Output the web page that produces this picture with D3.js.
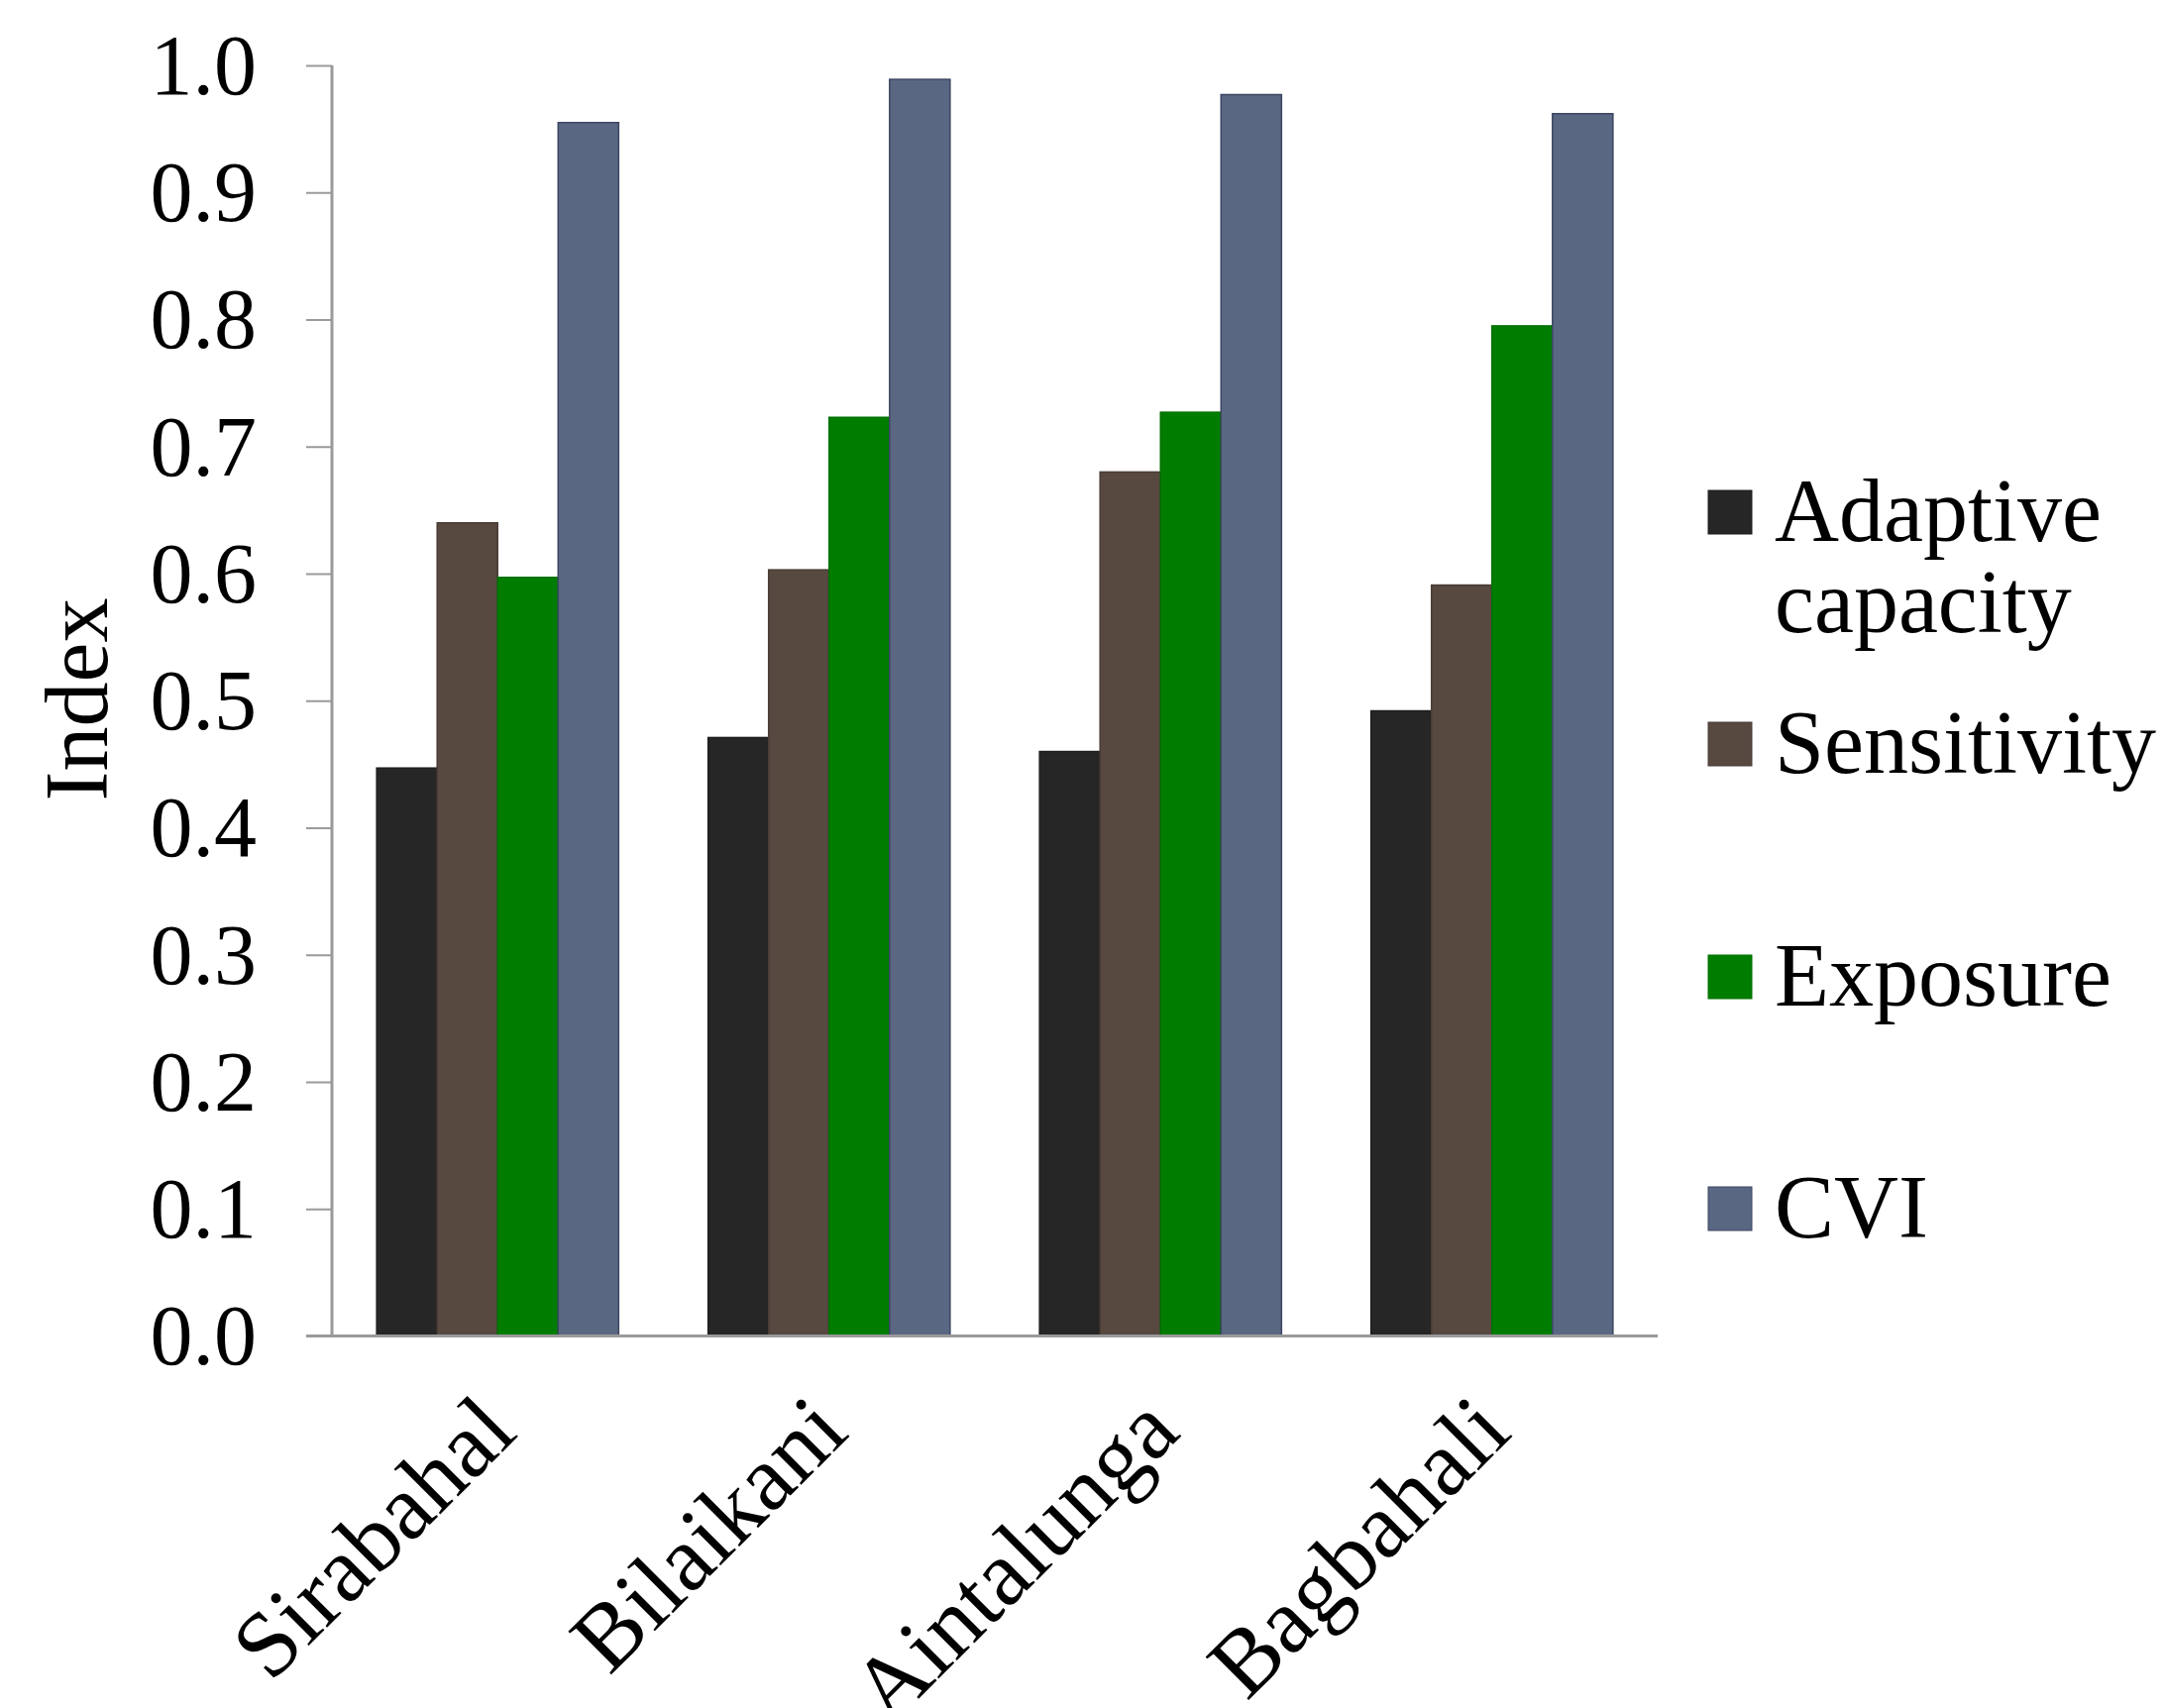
<!DOCTYPE html>
<html>
<head>
<meta charset="utf-8">
<script src="https://cdn.jsdelivr.net/npm/d3@7"></script>
<style>
  html, body { margin: 0; padding: 0; background: #fff; }
  svg { display: block; }
  text { font-family: "Liberation Serif", "DejaVu Serif", serif; fill: #000; }
</style>
</head>
<body>
<svg id="chart" width="2186" height="1724"></svg>
<script>
// Villages and index components
const villages = ["Sirabahal", "Bilaikani", "Aintalunga", "Bagbahali"];
const seriesNames = ["Adaptive capacity", "Sensitivity", "Exposure", "CVI"];
const adaptiveCapacity = [0.447, 0.471, 0.460, 0.492];
const sensitivity = [0.640, 0.603, 0.680, 0.591];
const exposure = [0.597, 0.723, 0.727, 0.795];
const cvi = [0.955, 0.989, 0.977, 0.962];
const yTicks = [0, 0.1, 0.2, 0.3, 0.4, 0.5, 0.6, 0.7, 0.8, 0.9, 1.0];

const seriesValues = [adaptiveCapacity, sensitivity, exposure, cvi];
const colors = ["#262626", "#574840", "#007d00", "#5a6782"];
const strokes = ["#1e1e1e", "#4a3d36", "#007000", "#3c4662"];

const svg = d3.select("#chart");
const plotLeft = 335, plotRight = 1673, plotTop = 66, plotBottom = 1348.5;

const x = d3.scaleBand().domain(villages).range([plotLeft, plotRight])
  .paddingInner(0.27).paddingOuter(0.135);
const xs = d3.scaleBand().domain(seriesNames).range([0, x.bandwidth()]).padding(0);
const y = d3.scaleLinear().domain([0, 1]).range([plotBottom, plotTop]);

// Bars
const rows = villages.map((v, i) => ({
  village: v,
  values: seriesNames.map((s, j) => ({ series: s, j, value: seriesValues[j][i] }))
}));

const groups = svg.append("g").selectAll("g").data(rows).join("g")
  .attr("transform", d => `translate(${x(d.village)},0)`);

groups.selectAll("rect").data(d => d.values).join("rect")
  .attr("x", d => xs(d.series))
  .attr("y", d => y(d.value))
  .attr("width", xs.bandwidth())
  .attr("height", d => y(0) - y(d.value))
  .attr("fill", d => colors[d.j])
  .attr("stroke", d => strokes[d.j])
  .attr("stroke-width", 1.5);

// Y axis
const yAxis = d3.axisLeft(y).tickValues(yTicks).tickFormat(d3.format(".1f"))
  .tickSize(26).tickPadding(50);
const gy = svg.append("g").attr("transform", `translate(${plotLeft},0)`).call(yAxis);
gy.select(".domain").attr("stroke", "#9a9a9a").attr("stroke-width", 3)
  .attr("d", `M0,${plotTop}V${plotBottom}`);
gy.selectAll(".tick line").attr("stroke", "#9a9a9a").attr("stroke-width", 2);
gy.selectAll(".tick text")
  .style("font-family", '"Liberation Serif", serif')
  .style("font-size", "86px")
  .attr("fill", "#000")
  .attr("dy", "0.33em");

// X axis baseline
svg.append("line")
  .attr("x1", plotLeft - 26).attr("x2", plotRight)
  .attr("y1", y(0)).attr("y2", y(0))
  .attr("stroke", "#9a9a9a").attr("stroke-width", 3);

// Category labels, rotated
svg.append("g").selectAll("text").data(villages).join("text")
  .attr("transform", d => `translate(${x(d) + x.bandwidth() / 2 + 22},${y(0) + 100}) rotate(-45)`)
  .attr("text-anchor", "end")
  .style("font-size", "94px")
  .text(d => d);

// Y axis title
svg.append("text")
  .attr("transform", `translate(108,706) rotate(-90)`)
  .attr("text-anchor", "middle")
  .style("font-size", "90px")
  .text("Index");

// Legend
const legendY = [517, 751, 986, 1220];
const legend = svg.append("g").selectAll("g").data(seriesNames).join("g")
  .attr("transform", (d, i) => `translate(1724,${legendY[i]})`);
legend.append("rect")
  .attr("x", 0).attr("y", -22).attr("width", 44).attr("height", 44)
  .attr("fill", (d, i) => colors[i])
  .attr("stroke", (d, i) => strokes[i]).attr("stroke-width", 1);
legend.append("text")
  .attr("x", 67).attr("y", 29)
  .style("font-size", "90px")
  .each(function (d) {
    const parts = d === "Adaptive capacity" ? ["Adaptive", "capacity"] : [d];
    d3.select(this).selectAll("tspan").data(parts).join("tspan")
      .attr("x", 67).attr("dy", (p, k) => k === 0 ? 0 : 92)
      .text(p => p);
  });
</script>
</body>
</html>
